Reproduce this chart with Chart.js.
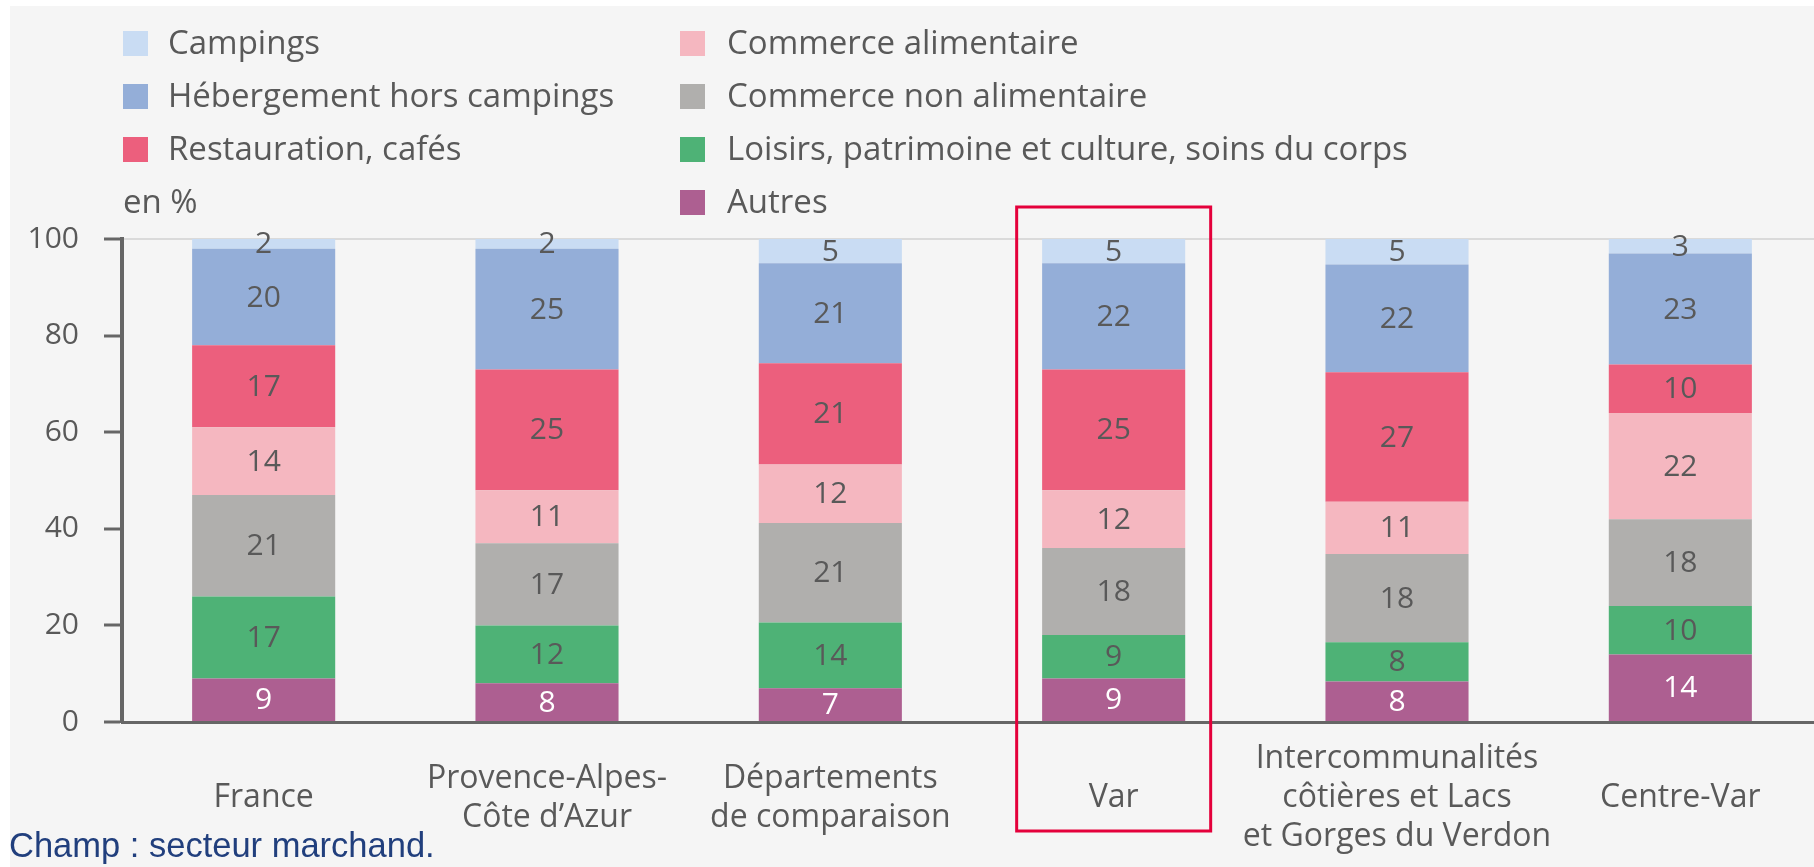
<!DOCTYPE html>
<html>
<head>
<meta charset="utf-8">
<script src="https://cdn.jsdelivr.net/npm/chart.js@4/dist/chart.umd.min.js"></script>
<style>
  html, body { margin: 0; padding: 0; background: #ffffff; overflow: hidden; }
  #panel { position: absolute; left: 10px; top: 6px; right: 0; bottom: 0; background: #f5f5f5; }
  #wrap { position: absolute; left: 0; top: 0; width: 1822px; height: 867px; }
  .leg { position: absolute; font-family: 'Open Sans', sans-serif; font-size: 33px; color: #595959; line-height: 1; white-space: nowrap; }
  .sq { position: absolute; width: 25px; height: 25px; }
  #note { position: absolute; left: 9px; top: 828px; font-family: 'Liberation Sans', Arial, sans-serif; font-size: 34.5px; color: #213f7d; line-height: 1; white-space: nowrap; }
</style>
</head>
<body>
<div id="panel"></div>
<div id="wrap"><canvas id="chart" width="1822" height="867"></canvas></div>
<div id="legend"></div>
<div id="note">Champ : secteur marchand.</div>
<script>
// categories (x axis), multi-line labels
var categories = [
  "France",
  ["Provence-Alpes-", "Côte d’Azur"],
  ["Départements", "de comparaison"],
  "Var",
  ["Intercommunalités", "côtières et Lacs", "et Gorges du Verdon"],
  "Centre-Var"
];

// series, in legend order (top of the stack first)
var seriesNames = [
  "Campings",
  "Hébergement hors campings",
  "Restauration, cafés",
  "Commerce alimentaire",
  "Commerce non alimentaire",
  "Loisirs, patrimoine et culture, soins du corps",
  "Autres"
];
var seriesColors = ["#c9dcf3", "#94aed8", "#ec5f7d", "#f5b7c0", "#b0afad", "#4eb276", "#ad5f91"];

var campings     = [2, 2, 5, 5, 5.3, 3];
var hebergement  = [20, 25, 20.7, 22, 22.3, 23];
var restauration = [17, 25, 21.0, 25, 26.8, 10];
var commAlim     = [14, 11, 12.1, 12, 10.8, 22];
var commNonAlim  = [21, 17, 20.6, 18, 18.3, 18];
var loisirs      = [17, 12, 13.6, 9, 8.1, 10];
var autres       = [9, 8, 7, 9, 8.4, 14];

var seriesValues = [campings, hebergement, restauration, commAlim, commNonAlim, loisirs, autres];

var yTicks = [0, 20, 40, 60, 80, 100];
var unitLabel = "en %";
var highlighted = "Var";

// legend (html), two columns
var legend = document.getElementById("legend");
var rowY = [43, 96, 149, 202];
function addLegendItem(col, row, name, color){
  var sqX = col == 0 ? 123 : 680;
  var txX = col == 0 ? 168 : 727;
  if(color){
    var sq = document.createElement("div");
    sq.className = "sq";
    sq.style.left = sqX + "px";
    sq.style.top = (rowY[row] - 12) + "px";
    sq.style.background = color;
    legend.appendChild(sq);
  }
  var t = document.createElement("div");
  t.className = "leg";
  t.style.left = (color ? txX : sqX) + "px";
  t.style.top = (rowY[row] - 18) + "px";
  t.textContent = name;
  legend.appendChild(t);
}
seriesNames.forEach(function(n, i){
  if(i < 3) addLegendItem(0, i, n, seriesColors[i]);
  else addLegendItem(1, i - 3, n, seriesColors[i]);
});
addLegendItem(0, 3, unitLabel, null);

// datasets: chart.js stacks from first dataset at bottom
var datasets = [];
for(var i = seriesNames.length - 1; i >= 0; i--){
  datasets.push({
    label: seriesNames[i],
    data: seriesValues[i],
    backgroundColor: seriesColors[i],
    borderWidth: 0,
    categoryPercentage: 1,
    barPercentage: 0.505,
    labelColor: seriesNames[i] == "Autres" ? "#ffffff" : "#595959"
  });
}

var valueLabels = {
  id: "valueLabels",
  afterDatasetsDraw: function(chart){
    var ctx = chart.ctx;
    ctx.save();
    ctx.font = "30px 'Open Sans', sans-serif";
    ctx.textAlign = "center";
    ctx.textBaseline = "middle";
    chart.data.datasets.forEach(function(ds, di){
      var meta = chart.getDatasetMeta(di);
      meta.data.forEach(function(el, j){
        ctx.fillStyle = ds.labelColor;
        ctx.fillText(String(Math.round(ds.data[j])), el.x, (el.y + el.base) / 2 + 1);
      });
    });
    ctx.restore();
  }
};

var highlightBox = {
  id: "highlightBox",
  afterDraw: function(chart){
    var xs = chart.scales.x, ys = chart.scales.y;
    var cx = xs.getPixelForValue(categories.indexOf(highlighted));
    var top = ys.getPixelForValue(100) - 32;
    var bottom = ys.getPixelForValue(0) + 109;
    var ctx = chart.ctx;
    ctx.save();
    ctx.strokeStyle = "#e4003b";
    ctx.lineWidth = 3;
    ctx.strokeRect(cx - 97, top, 194, bottom - top);
    ctx.restore();
  }
};

Chart.defaults.font.family = "'Open Sans', sans-serif";

var chart = new Chart(document.getElementById("chart"), {
  type: "bar",
  data: { labels: categories, datasets: datasets },
  options: {
    responsive: false,
    animation: false,
    devicePixelRatio: 1,
    layout: { padding: { top: 239, left: 0, right: 0, bottom: 0 } },
    plugins: { legend: { display: false }, tooltip: { enabled: false } },
    scales: {
      x: {
        stacked: true,
        offset: true,
        grid: { display: false, drawTicks: false },
        border: { color: "#666666", width: 3 },
        ticks: {
          color: "#595959",
          font: { size: 32, lineHeight: 1.22 },
          padding: 37,
          crossAlign: "center",
          maxRotation: 0,
          autoSkip: false
        },
        afterFit: function(scale){ scale.height = 145; }
      },
      y: {
        stacked: true,
        min: 0,
        max: 100,
        afterBuildTicks: function(scale){
          scale.ticks = yTicks.map(function(v){ return { value: v }; });
        },
        grid: {
          color: function(c){ return c.tick && c.tick.value == 100 ? "#dadada" : "rgba(0,0,0,0)"; },
          lineWidth: 2,
          tickColor: "#666666",
          tickLength: 18,
          tickWidth: 3
        },
        border: { color: "#666666", width: 4 },
        ticks: { color: "#595959", font: { size: 30 }, padding: 25 },
        afterFit: function(scale){ scale.width = 122; }
      }
    }
  },
  plugins: [valueLabels, highlightBox]
});
</script>
</body>
</html>
